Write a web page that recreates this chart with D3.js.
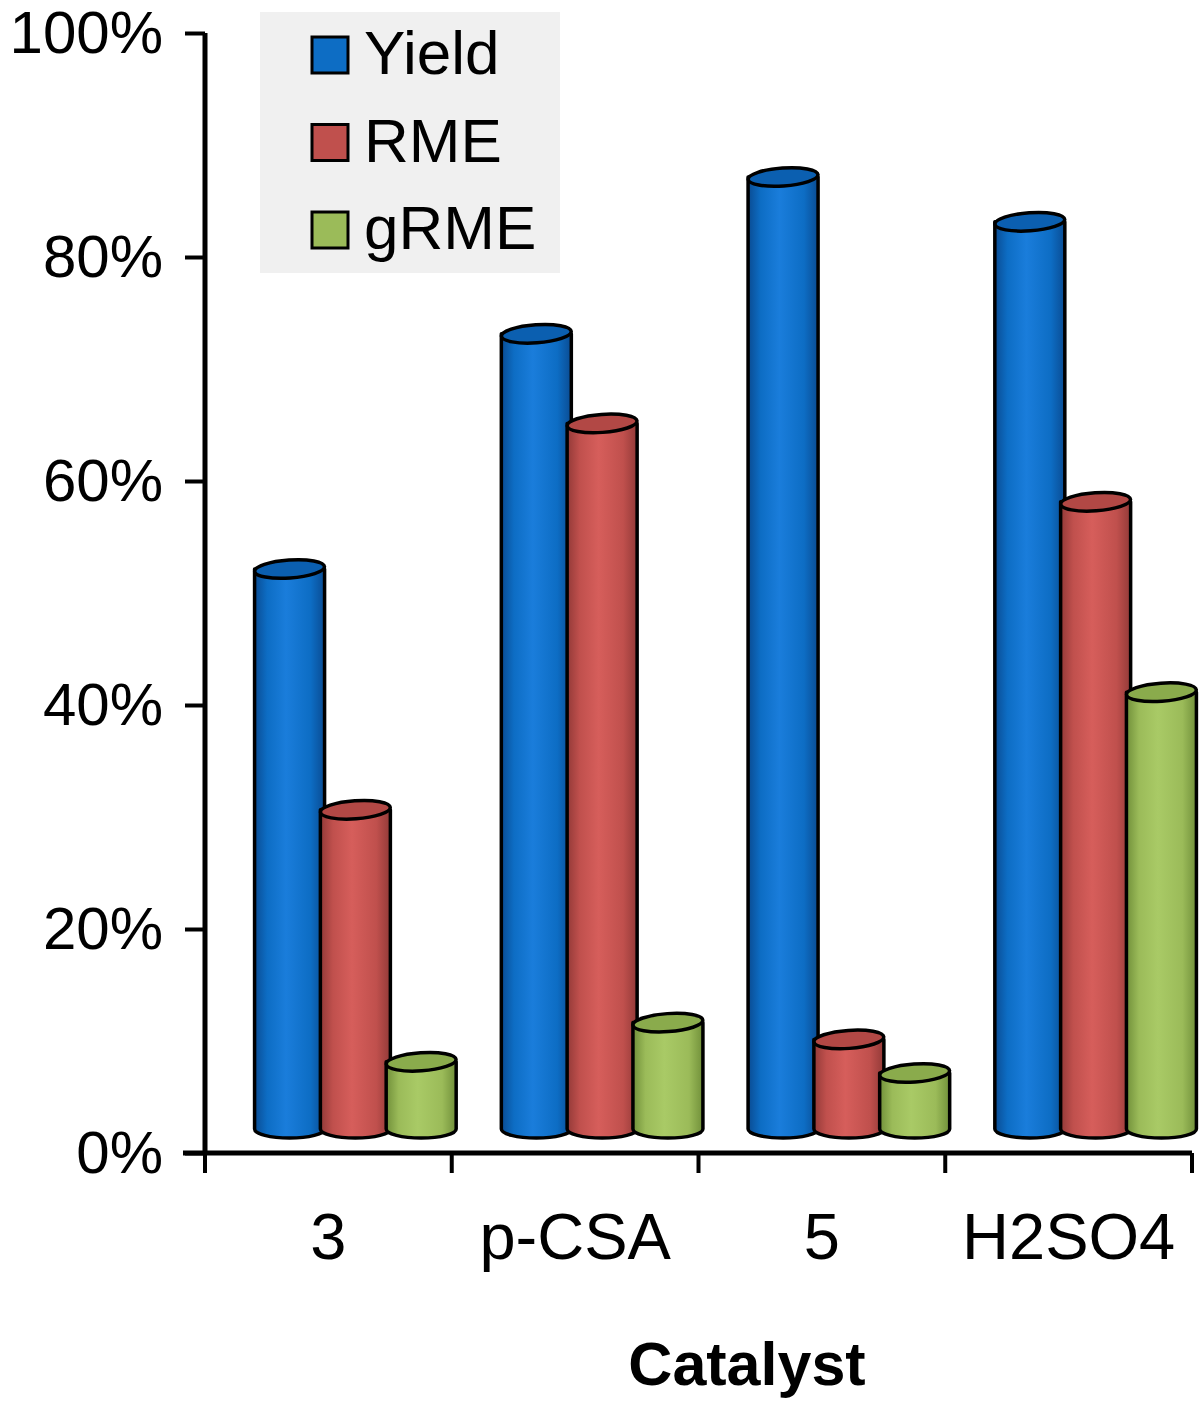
<!DOCTYPE html>
<html>
<head>
<meta charset="utf-8">
<script src="https://cdn.jsdelivr.net/npm/d3@7"></script>
<style>
  body { margin: 0; background: #fff; }
  text { font-family: "Liberation Sans", Arial, sans-serif; }
</style>
</head>
<body>
<div id="main"></div>
<script>
let catalysts = ["3", "p-CSA", "5", "H2SO4"];
let seriesNames = ["Yield", "RME", "gRME"];
let yieldVals = [0.50, 0.71, 0.85, 0.81];
let rmeVals = [0.285, 0.63, 0.08, 0.56];
let grmeVals = [0.06, 0.095, 0.05, 0.39];
let yTicks = [0, 0.2, 0.4, 0.6, 0.8, 1.0];

let width = 1200, height = 1404;
let depthX = 27, depthY = 24; // 3d shift of the columns
let rx = 35, ry = 9;

let colors = {
  Yield: {base: "#0d6dc4", light: "#1a7ddb", dark: "#0a4c93", top: "#0b5fb0"},
  RME:   {base: "#c0504d", light: "#d65e5b", dark: "#933a38", top: "#b24845"},
  gRME:  {base: "#9bbb59", light: "#a9ca66", dark: "#71903a", top: "#8aab4c"}
};

let rows = [];
catalysts.forEach((c, i) => {
  rows.push({cat: c, s: "Yield", v: yieldVals[i]});
  rows.push({cat: c, s: "RME", v: rmeVals[i]});
  rows.push({cat: c, s: "gRME", v: grmeVals[i]});
});

let svg = d3.select("#main")
    .append("svg")
    .attr("width", width)
    .attr("height", height);

let defs = svg.append("defs");
seriesNames.forEach(s => {
  let gr = defs.append("linearGradient")
      .attr("id", "grad-" + s)
      .attr("x1", "0%").attr("x2", "100%").attr("y1", "0%").attr("y2", "0%");
  gr.append("stop").attr("offset", "0%").attr("stop-color", colors[s].dark);
  gr.append("stop").attr("offset", "18%").attr("stop-color", colors[s].base);
  gr.append("stop").attr("offset", "45%").attr("stop-color", colors[s].light);
  gr.append("stop").attr("offset", "80%").attr("stop-color", colors[s].base);
  gr.append("stop").attr("offset", "100%").attr("stop-color", colors[s].dark);
});

var x0 = d3.scaleBand().domain(catalysts).range([205, 1192]).paddingInner(0.2).paddingOuter(0.1);
var x1 = d3.scaleBand().domain(seriesNames).range([0, x0.bandwidth()]);
var yScale = d3.scaleLinear().domain([0, 1]).range([1153, 33]);

// columns
let bars = svg.append("g");
rows.forEach(d => {
  let cx = x0(d.cat) + x1(d.s) + x1.bandwidth() / 2 + depthX;
  let yTop = yScale(d.v) - depthY;
  let yBot = yScale(0) - depthY;
  let g = bars.append("g");
  g.append("path")
    .attr("d", `M${cx - rx},${yTop} L${cx - rx},${yBot} A${rx},${ry} 0 0 0 ${cx + rx},${yBot} L${cx + rx},${yTop} Z`)
    .attr("fill", `url(#grad-${d.s})`)
    .attr("stroke", "#000")
    .attr("stroke-width", 3.5)
    .attr("stroke-linejoin", "round");
  g.append("ellipse")
    .attr("cx", cx).attr("cy", yTop)
    .attr("rx", rx).attr("ry", ry)
    .attr("transform", `rotate(-4,${cx},${yTop})`)
    .attr("fill", colors[d.s].top)
    .attr("stroke", "#000")
    .attr("stroke-width", 3.5);
});

// y axis
let yAxis = d3.axisLeft(yScale)
    .tickValues(yTicks)
    .tickFormat(d3.format(".0%"))
    .tickSize(20)
    .tickPadding(22);
let ya = svg.append("g").attr("transform", "translate(205,0)").call(yAxis);
ya.select(".domain").attr("stroke", "#000").attr("stroke-width", 5).attr("d", "M0,33V1153");
ya.selectAll(".tick line").attr("stroke", "#000").attr("stroke-width", 4);
ya.selectAll(".tick text")
    .attr("font-size", 60)
    .attr("fill", "#000")
    .style("font-family", "'Liberation Sans', Arial, sans-serif");

// x axis
let xAxis = d3.axisBottom(x0).tickSize(0).tickPadding(60);
let xa = svg.append("g").attr("transform", "translate(0,1153)").call(xAxis);
xa.select(".domain").attr("stroke", "#000").attr("stroke-width", 5).attr("d", "M183,0H1192");
xa.selectAll(".tick text")
    .attr("font-size", 65)
    .attr("fill", "#000")
    .style("font-family", "'Liberation Sans', Arial, sans-serif");
let edges = catalysts.map(c => x0(c) - x0.step() * x0.paddingInner() / 2).concat([1192]);
xa.selectAll(".sep").data(edges).enter()
    .append("line")
    .attr("x1", d => d).attr("x2", d => d)
    .attr("y1", 0).attr("y2", 20)
    .attr("stroke", "#000").attr("stroke-width", 4);

svg.append("text")
    .attr("x", 747).attr("y", 1385)
    .attr("text-anchor", "middle")
    .attr("font-size", 61)
    .attr("font-weight", "bold")
    .text("Catalyst");

// legend
let legend = svg.append("g");
legend.append("rect")
    .attr("x", 260).attr("y", 12)
    .attr("width", 300).attr("height", 261)
    .attr("fill", "#f0f0f0");
let items = legend.selectAll(".item").data(seriesNames).enter()
    .append("g")
    .attr("transform", (d, i) => `translate(0,${i * 87.5})`);
items.append("rect")
    .attr("x", 312).attr("y", 37)
    .attr("width", 36).attr("height", 36)
    .attr("fill", d => colors[d].base)
    .attr("stroke", "#000").attr("stroke-width", 3);
items.append("text")
    .attr("x", 364).attr("y", 74)
    .attr("font-size", 62)
    .text(d => d);
</script>
</body>
</html>
